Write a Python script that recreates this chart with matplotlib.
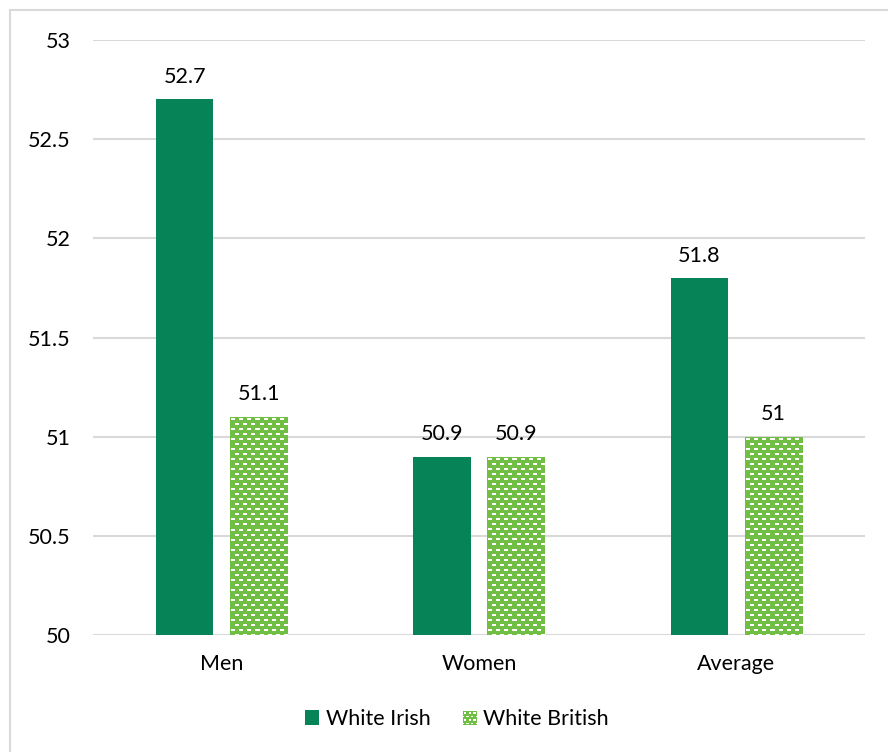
import numpy as np
import matplotlib
matplotlib.use("Agg")
import matplotlib.pyplot as plt
from matplotlib.patches import Rectangle
from matplotlib.legend_handler import HandlerBase

plt.rcParams['font.family'] = ['Lato', 'DejaVu Sans']

categories = ["Men", "Women", "Average"]
white_irish = [52.7, 50.9, 51.8]
white_british = [51.1, 50.9, 51.0]
irish_labels = ["52.7", "50.9", "51.8"]
british_labels = ["51.1", "50.9", "51"]
series_names = ["White Irish", "White British"]
y_ticks = [50, 50.5, 51, 51.5, 52, 52.5, 53]
y_tick_labels = ["50", "50.5", "51", "51.5", "52", "52.5", "53"]

DARK = "#078457"
LIGHT = "#70BF44"
GRID = "#D9D9D9"
FS = 15.5

W, H, DPI = 888, 752, 100
fig = plt.figure(figsize=(W / DPI, H / DPI), dpi=DPI)

# outer frame of the chart area
fig.add_artist(Rectangle((10 / W, -0.1), 1.2, (H - 10) / H + 0.1, transform=fig.transFigure,
                         fill=False, edgecolor="#D9D9D9", linewidth=1.5))

ax = fig.add_axes([93 / W, (H - 635) / H, (865 - 93) / W, (635 - 40) / H])
ax.set_xlim(-0.5, 2.5)
ax.set_ylim(50, 53)

x = np.arange(len(categories))
bw = 0.222
off = 0.144

bars_i = ax.bar(x - off, np.array(white_irish) - 50, bw, bottom=50, color=DARK, zorder=3)
bars_b = ax.bar(x + off, np.array(white_british) - 50, bw, bottom=50, color=LIGHT, zorder=3)


def brick_pattern(h_px, w_px):
    """Light green tile with staggered rows of short white dashes."""
    img = np.ones((h_px, w_px, 3)) * np.array(matplotlib.colors.to_rgb(LIGHT))
    for r in range(0, h_px, 5):
        shift = 0 if (r // 5) % 2 == 0 else 4
        for c in range(shift, w_px, 8):
            img[r + 2:r + 4, c + 1:c + 5] = [1, 1, 1]
    return img


px_per_x = (865 - 93) / 3.0
px_per_y = (635 - 40) / 3.0
for b in bars_b:
    x0, y0 = b.get_x(), b.get_y()
    w, h = b.get_width(), b.get_height()
    hp = max(int(round(h * px_per_y)), 1)
    wp = max(int(round(w * px_per_x)), 1)
    im = ax.imshow(brick_pattern(hp, wp), extent=(x0, x0 + w, y0, y0 + h),
                   origin="upper", interpolation="nearest", aspect="auto", zorder=4)
    im.set_clip_path(b)

ax.set_xlim(-0.5, 2.5)
ax.set_ylim(50, 53)

for b, lab in zip(bars_i, irish_labels):
    ax.annotate(lab, (b.get_x() + b.get_width() / 2, b.get_y() + b.get_height()),
                xytext=(0, 9), textcoords="offset points", ha="center", va="bottom",
                fontsize=FS, color="#000000")
for b, lab in zip(bars_b, british_labels):
    ax.annotate(lab, (b.get_x() + b.get_width() / 2, b.get_y() + b.get_height()),
                xytext=(0, 9), textcoords="offset points", ha="center", va="bottom",
                fontsize=FS, color="#000000")

ax.set_yticks(y_ticks)
ax.set_yticklabels(y_tick_labels, fontsize=FS)
ax.set_xticks(x)
ax.set_xticklabels(categories, fontsize=FS)
ax.tick_params(axis="y", length=0, pad=16)
ax.tick_params(axis="x", length=0, pad=14)
ax.yaxis.grid(True, color=GRID, linewidth=1.5, zorder=0)
ax.set_axisbelow(True)
for s in ax.spines.values():
    s.set_visible(False)


class PatternHandler(HandlerBase):
    def create_artists(self, legend, orig_handle, xd, yd, width, height, fontsize, trans):
        arts = [Rectangle((xd, yd), width, height, facecolor=LIGHT, edgecolor="none", transform=trans)]
        nr, nc = 4, 3
        dh = height / nr
        dw = width / nc
        for r in range(nr):
            sh = 0 if r % 2 == 0 else dw / 2
            for c in range(nc + 1):
                rx = xd + sh + c * dw - dw * 0.25
                x_lo = max(rx, xd)
                x_hi = min(rx + dw * 0.5, xd + width)
                if x_hi > x_lo:
                    arts.append(Rectangle((x_lo, yd + r * dh + dh * 0.3), x_hi - x_lo, dh * 0.4,
                                          facecolor="white", edgecolor="none", transform=trans))
        return arts


h1 = Rectangle((0, 0), 1, 1, facecolor=DARK, edgecolor="none")
h2 = Rectangle((0, 0), 1, 1, facecolor=LIGHT, edgecolor="none")
fig.legend([h1, h2], series_names, loc="center", bbox_to_anchor=(457 / W, 1 - 719 / H),
           ncol=2, frameon=False, fontsize=FS, handlelength=0.65, handleheight=0.65,
           handletextpad=0.3, columnspacing=1.5,
           handler_map={h2: PatternHandler()})

fig.savefig("out.png", dpi=DPI)
